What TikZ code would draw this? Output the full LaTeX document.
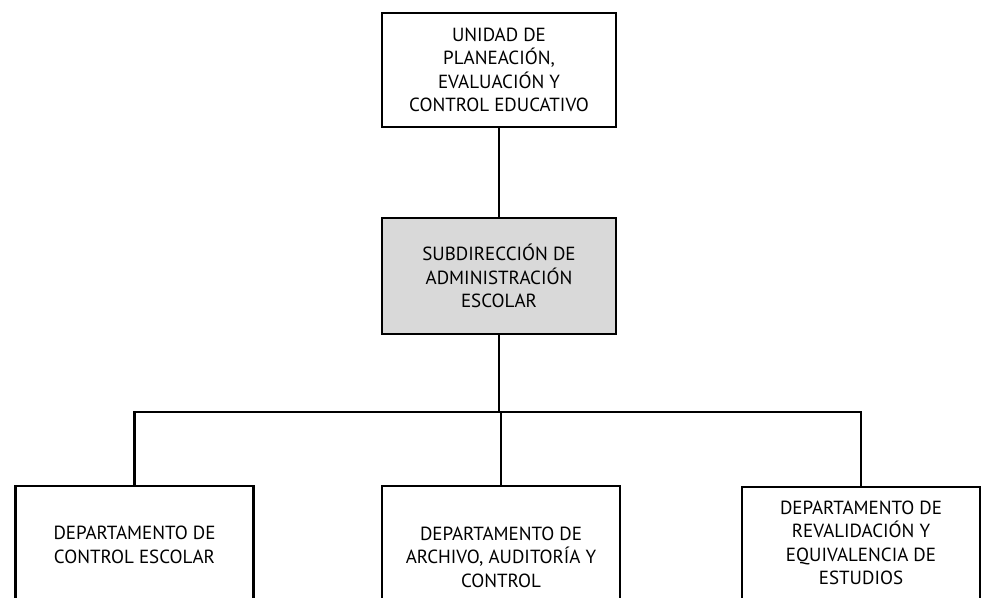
\documentclass[tikz,border=0pt]{standalone}
\usepackage{fontspec}
\setmainfont{PT Sans}
\begin{document}
\begin{tikzpicture}[x=1pt,y=-1pt,
  box/.style={draw=black, line width=2.8pt, fill=white, align=center,
    minimum width=234pt, inner sep=0pt,
    font=\fontsize{19}{23.5}\selectfont},
  lowbox/.style={box, minimum width=238pt},
  link/.style={line width=2.8pt}]
\useasboundingbox (0,0) rectangle (984,597);
\clip (0,0) rectangle (984,597);

% upper levels
\node[box, minimum height=114pt] (unidad) at (499,70)
  {UNIDAD DE\\PLANEACIÓN,\\EVALUACIÓN Y\\CONTROL EDUCATIVO};
\node[box, fill=black!15, minimum height=116pt] (sub) at (499,276)
  {SUBDIRECCIÓN DE\\ADMINISTRACIÓN\\ESCOLAR};

% departments (their lower edges run past the page)
\node[lowbox, minimum height=118pt] (dce) at (134.5,545)
  {DEPARTAMENTO DE\\CONTROL ESCOLAR};
\node[lowbox, minimum height=142pt] (dac) at (501,557)
  {DEPARTAMENTO DE\\ARCHIVO, AUDITORÍA Y\\CONTROL};
\node[lowbox, minimum height=112pt] (drv) at (861,543)
  {DEPARTAMENTO DE\\REVALIDACIÓN Y\\EQUIVALENCIA DE\\ESTUDIOS};

% connectors
\coordinate (hub) at (499,412);
\draw[link] (unidad.south) -- (sub.north);
\draw[link] (sub.south) -- (hub);
\draw[link] (hub) -- (hub -| dce.north) -- (dce.north);
\draw[link] (hub) -- (hub -| drv.north) -- (drv.north);
\draw[link] (hub) -- (hub -| dac.north) -- (dac.north);
\end{tikzpicture}
\end{document}
